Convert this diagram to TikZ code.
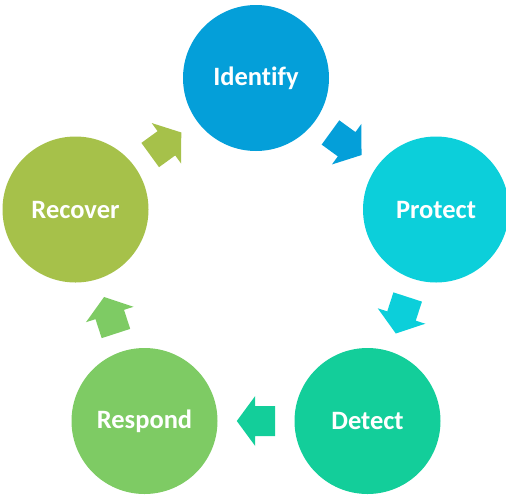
\documentclass[tikz,border=0pt]{standalone}
\usepackage{fontspec}
\setmainfont{Carlito}[Ligatures=CommonOff]
\usetikzlibrary{calc}
\definecolor{cId}{RGB}{4,159,217}
\definecolor{cPr}{RGB}{12,207,218}
\definecolor{cDe}{RGB}{19,206,154}
\definecolor{cRe}{RGB}{126,203,100}
\definecolor{cRc}{RGB}{166,193,74}
\tikzset{
  stage/.style={circle, minimum size=146pt, inner sep=0pt, text=white,
    font=\fontsize{26.5}{30}\selectfont\bfseries},
  blockarrow/.pic={
    \fill[pic actions] (19.2,0) -- (0.8,25) -- (0.8,15) -- (-19.2,15)
      -- (-19.2,-15) -- (0.8,-15) -- (0.8,-25) -- cycle;
  }
}
\begin{document}
\begin{tikzpicture}[x=1pt,y=-1pt]
\useasboundingbox (0,0) rectangle (506,496);
\node[stage, fill=cId] (id) at (256,78) {Identify};
\node[stage, fill=cPr] (pr) at (436,209.5) {Protect};
\node[stage, fill=cDe] (de) at (367.5,421) {Detect};
\node[stage, fill=cRe] (re) at (144.5,421) {Respond};
\node[stage, fill=cRc] (rc) at (75.5,209.5) {Recover};
\pic[fill=cId, rotate=-36] (a1) at ($(id)!0.5!(pr)$) {blockarrow};
\pic[fill=cPr, rotate=-108] (a2) at ($(pr)!0.5!(de)$) {blockarrow};
\pic[fill=cDe, rotate=180] (a3) at ($(de)!0.5!(re)$) {blockarrow};
\pic[fill=cRe, rotate=108] (a4) at ($(re)!0.5!(rc)$) {blockarrow};
\pic[fill=cRc, rotate=36] (a5) at ($(rc)!0.5!(id)$) {blockarrow};
\end{tikzpicture}
\end{document}
